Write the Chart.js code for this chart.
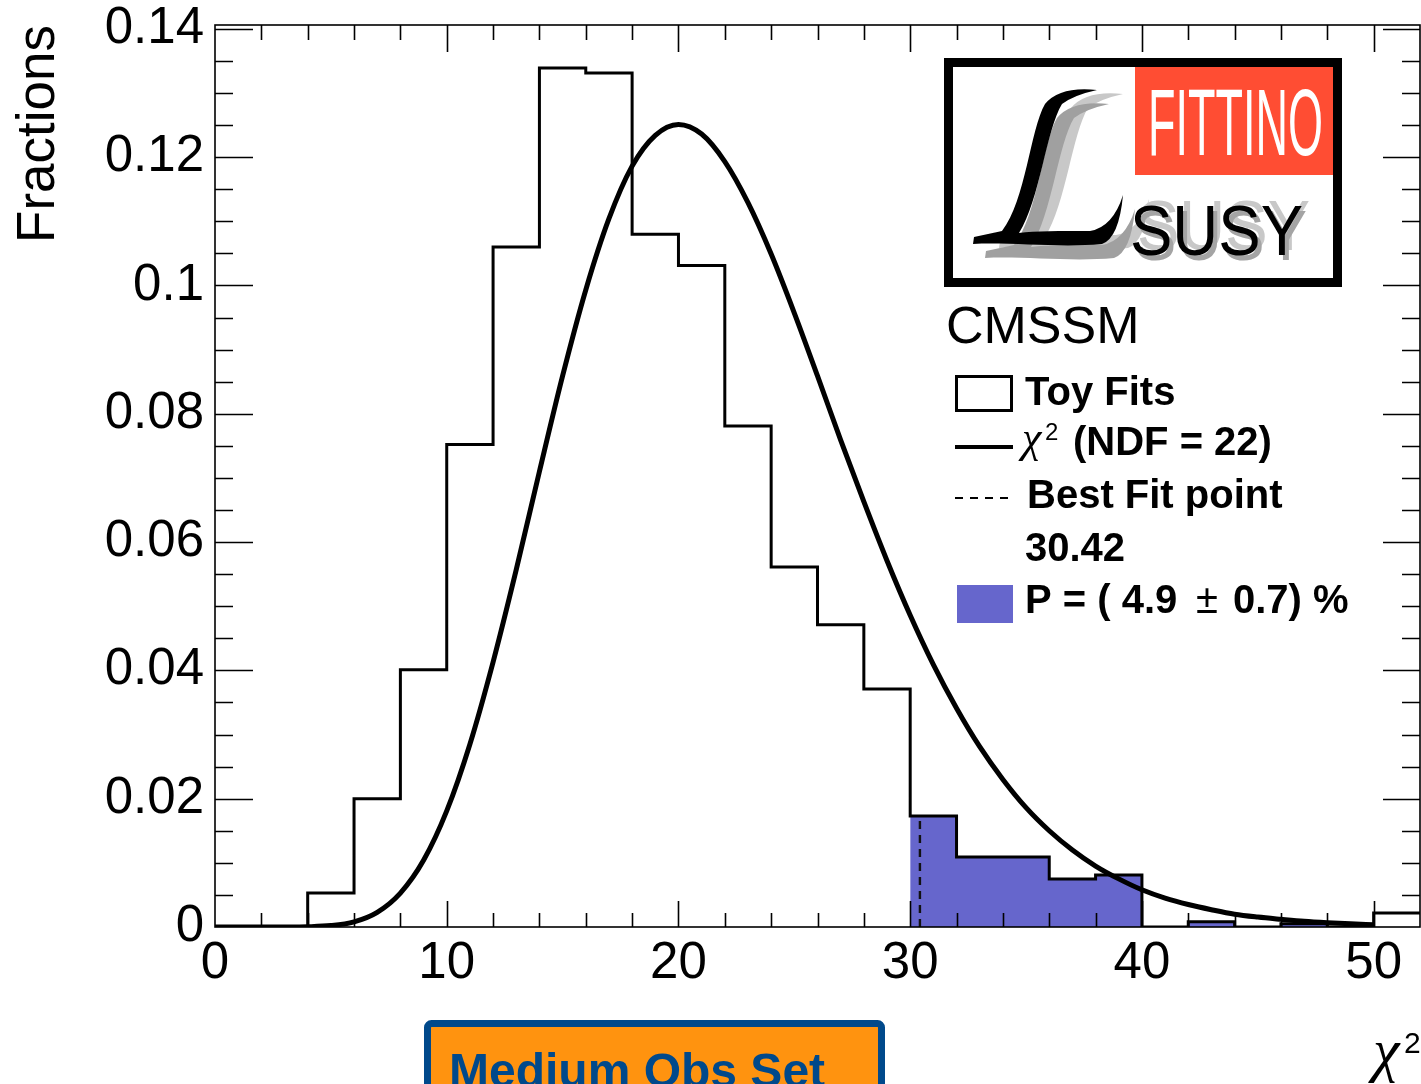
<!DOCTYPE html>
<html>
<head>
<meta charset="utf-8">
<title>Toy fits chi2</title>
<script src="https://cdn.jsdelivr.net/npm/chart.js@4.4.1/dist/chart.umd.min.js"></script>
<style>
  html, body { margin: 0; padding: 0; background: #fff; }
  canvas { display: block; }
</style>
</head>
<body>
<canvas id="myChart" width="1421" height="1084"></canvas>
<script>
// histogram: left bin edges (width 2) and fraction of toy fits per bin
const binEdges = [0, 2, 4, 6, 8, 10, 12, 14, 16, 18, 20, 22, 24, 26, 28, 30, 32, 34, 36, 38, 40, 42, 44, 46, 48, 50];
const toyFits = [0, 0, 0.0053, 0.0200, 0.0401, 0.0752, 0.1060, 0.1339, 0.1331, 0.1080, 0.1031, 0.0781, 0.0561, 0.0471, 0.0371,
                 0.0173, 0.0109, 0.0109, 0.0075, 0.0081, 0, 0.0008, 0, 0.0005, 0, 0.0022];
const binWidth = 2;

// chi2 curve (NDF = 22)
const chi2X = [0, 1, 2, 3, 4, 5, 6, 7, 8, 9, 10, 11, 12, 13, 14, 15, 16, 17, 18, 19, 20, 21, 22, 23, 24, 25,
               26, 27, 28, 29, 30, 31, 32, 33, 34, 35, 36, 37, 38, 39, 40, 41, 42, 43, 44, 45, 46, 47, 48, 49, 50];
const chi2Y = [0, 0, 0, 0.000004, 0.00004, 0.00022, 0.00081, 0.00229, 0.00529, 0.0104, 0.0181, 0.0285, 0.0413, 0.0557,
               0.0710, 0.0859, 0.0993, 0.1104, 0.1186, 0.1234, 0.1251, 0.1236, 0.1193, 0.1129, 0.1049, 0.0957, 0.0859,
               0.0759, 0.0663, 0.0571, 0.0486, 0.0409, 0.0341, 0.0281, 0.0230, 0.0186, 0.0150, 0.0120, 0.0095, 0.0075,
               0.0058, 0.0045, 0.0035, 0.0027, 0.0020, 0.00155, 0.0012, 0.00088, 0.00066, 0.00049, 0.00036];

const bestFit = 30.42;
const tailFrom = 30;   // shaded p-value region
const tailTo = 50;
const xTickLabels = [0, 10, 20, 30, 40, 50];
const yTickLabels = [0, 0.02, 0.04, 0.06, 0.08, 0.1, 0.12, 0.14];

const FONT = '"Liberation Sans", Arial, Helvetica, sans-serif';
const SERIF = '"Liberation Serif", "Times New Roman", serif';

// build step data
const xEnd = binEdges[binEdges.length - 1] + binWidth;
const histData = binEdges.map((x, i) => ({ x: x, y: toyFits[i] }));
histData.push({ x: xEnd, y: toyFits[toyFits.length - 1] });
const tailData = histData.filter(p => p.x >= tailFrom && p.x < tailTo);
tailData.push({ x: tailTo, y: tailData[tailData.length - 1].y });
const curveData = chi2X.map((x, i) => ({ x: x, y: chi2Y[i] }));
const bestIdx = binEdges.findIndex(e => bestFit >= e && bestFit < e + binWidth);
const bestData = [{ x: bestFit, y: 0 }, { x: bestFit, y: toyFits[bestIdx] }];

// ROOT like frame with inward ticks on all four sides
const framePlugin = {
    id: 'frame',
    afterDatasetsDraw(chart) {
        const { ctx, chartArea: a, scales } = chart;
        const x = scales.x, y = scales.y;
        ctx.save();
        ctx.strokeStyle = '#000';
        ctx.lineWidth = 1.6;
        ctx.strokeRect(a.left, a.top, a.right - a.left, a.bottom - a.top);
        ctx.beginPath();
        for (let i = 1; i * 2 < x.max; i++) {
            const px = Math.round(x.getPixelForValue(i * 2)) + 0.5;
            const major = (i * 2) % 10 === 0;
            ctx.moveTo(px, a.bottom); ctx.lineTo(px, a.bottom - (major ? 26 : 14));
            ctx.moveTo(px, a.top); ctx.lineTo(px, a.top + (major ? 27 : 15));
        }
        for (let i = 1; i * 0.005 <= y.max + 1e-9; i++) {
            const py = Math.round(y.getPixelForValue(i * 0.005)) + 0.5;
            const major = i % 4 === 0;
            ctx.moveTo(a.left, py); ctx.lineTo(a.left + (major ? 38 : 18), py);
            ctx.moveTo(a.right, py); ctx.lineTo(a.right - (major ? 37 : 18), py);
        }
        ctx.stroke();
        ctx.restore();
    }
};

function drawScriptL(ctx, dx, dy, color) {
    ctx.save();
    ctx.translate(dx, dy);
    ctx.fillStyle = color;
    ctx.beginPath();
    ctx.moveTo(1097, 90);
    ctx.quadraticCurveTo(1060, 86, 1045, 104);
    ctx.bezierCurveTo(1030, 130, 1026, 200, 1002, 231);
    ctx.lineTo(974, 237);
    ctx.lineTo(973, 244);
    ctx.bezierCurveTo(1010, 242, 1060, 248, 1102, 244);
    ctx.quadraticCurveTo(1119, 238, 1123, 195);
    ctx.quadraticCurveTo(1113, 227, 1090, 231);
    ctx.bezierCurveTo(1060, 231, 1035, 231, 1019, 233);
    ctx.bezierCurveTo(1040, 200, 1046, 130, 1062, 104);
    ctx.quadraticCurveTo(1074, 95, 1097, 90);
    ctx.closePath();
    ctx.fill();
    ctx.restore();
}

const decorPlugin = {
    id: 'decor',
    afterDraw(chart) {
        const ctx = chart.ctx;
        ctx.save();

        // logo
        ctx.fillStyle = '#fff';
        ctx.fillRect(948, 62, 390, 221);
        ctx.fillStyle = '#ff4d33';
        ctx.fillRect(1135, 67, 198, 108);
        ctx.save();
        ctx.font = '94px ' + FONT;
        const fw = ctx.measureText('FITTINO').width;
        ctx.translate(1148, 155);
        ctx.scale(175 / fw, 1);
        ctx.fillStyle = '#fff';
        ctx.fillText('FITTINO', 0, 0);
        ctx.restore();

        drawScriptL(ctx, 26, 4, '#c8c8c8');
        drawScriptL(ctx, 12, 14, '#a0a0a0');
        drawScriptL(ctx, 0, 0, '#000');

        ctx.save();
        ctx.font = '70px ' + FONT;
        const sw = ctx.measureText('SUSY').width;
        const susy = (dx, dy, col) => {
            ctx.save();
            ctx.translate(1130 + dx, 255 + dy);
            ctx.scale(173 / sw, 1);
            ctx.fillStyle = col;
            ctx.fillText('SUSY', 0, 0);
            ctx.restore();
        };
        susy(7, -5, '#c8c8c8');
        susy(4, 5, '#a4a4a4');
        susy(0, 0, '#000');
        ctx.restore();

        ctx.strokeStyle = '#000';
        ctx.lineWidth = 9;
        ctx.strokeRect(948.5, 62.5, 389, 220);

        // legend
        ctx.fillStyle = '#000';
        ctx.textBaseline = 'alphabetic';
        ctx.font = '52px ' + FONT;
        ctx.fillText('CMSSM', 946, 343);

        ctx.lineWidth = 3;
        ctx.strokeRect(956.5, 376.5, 55, 34);
        ctx.fillRect(955, 445, 58, 4);
        ctx.save();
        ctx.setLineDash([8, 7]);
        ctx.lineWidth = 2;
        ctx.beginPath();
        ctx.moveTo(955, 498); ctx.lineTo(1010, 498);
        ctx.stroke();
        ctx.restore();
        ctx.fillStyle = '#6666cc';
        ctx.fillRect(957, 585, 56, 38);

        ctx.fillStyle = '#000';
        ctx.font = 'bold 40px ' + FONT;
        ctx.fillText('Toy Fits', 1025, 405);
        ctx.fillText('Best Fit point', 1027, 508);
        ctx.fillText('30.42', 1025, 561);
        ctx.fillText('P = ( 4.9', 1025, 613);
        ctx.fillText('0.7) %', 1233, 613);
        ctx.font = '40px ' + FONT;
        ctx.fillText('\u00b1', 1196, 613);
        ctx.font = 'italic 44px ' + SERIF;
        ctx.fillText('\u03c7', 1022, 452);
        ctx.font = '24px ' + FONT;
        ctx.fillText('2', 1045, 440);
        ctx.font = 'bold 40px ' + FONT;
        ctx.fillText('(NDF = 22)', 1073, 455);

        // x axis title
        ctx.font = 'italic 60px ' + SERIF;
        ctx.fillText('\u03c7', 1373, 1070);
        ctx.font = '30px ' + FONT;
        ctx.fillText('2', 1404, 1053);

        // observable set box
        ctx.fillStyle = '#ff930f';
        ctx.strokeStyle = '#00498b';
        ctx.lineWidth = 7;
        ctx.beginPath();
        ctx.roundRect(427.5, 1023.5, 454, 100, 4);
        ctx.fill();
        ctx.stroke();
        ctx.fillStyle = '#00498b';
        ctx.font = 'bold 48px ' + FONT;
        ctx.fillText('Medium Obs Set', 449, 1087);

        ctx.restore();
    }
};

Chart.defaults.font.family = FONT;
Chart.defaults.color = '#000';

const ctx = document.getElementById('myChart').getContext('2d');
const myChart = new Chart(ctx, {
    type: 'line',
    data: {
        datasets: [
            {
                label: 'Best Fit point',
                data: bestData,
                borderColor: '#111',
                borderWidth: 2.4,
                borderDash: [8, 6],
                pointRadius: 0,
                order: 1
            },
            {
                label: 'chi2 (NDF = 22)',
                data: curveData,
                borderColor: '#000',
                borderWidth: 5,
                cubicInterpolationMode: 'monotone',
                pointRadius: 0,
                order: 2
            },
            {
                label: 'Toy Fits',
                data: histData,
                stepped: true,
                borderColor: '#000',
                borderWidth: 3,
                pointRadius: 0,
                fill: false,
                order: 3
            },
            {
                label: 'P',
                data: tailData,
                stepped: true,
                borderWidth: 0,
                borderColor: 'rgba(0,0,0,0)',
                backgroundColor: '#6666cc',
                pointRadius: 0,
                fill: 'origin',
                order: 4
            }
        ]
    },
    options: {
        responsive: false,
        devicePixelRatio: 1,
        animation: false,
        layout: { padding: { top: 25, right: 1, left: 0, bottom: 0 } },
        plugins: { legend: { display: false }, tooltip: { enabled: false } },
        scales: {
            x: {
                type: 'linear',
                min: 0,
                max: xEnd,
                grid: { display: false, drawTicks: false, tickLength: 0 },
                border: { display: false },
                ticks: { font: { size: 51 }, padding: 6, maxRotation: 0, color: '#000' },
                afterBuildTicks: s => { s.ticks = xTickLabels.map(v => ({ value: v })); },
                afterFit: s => { s.height = 157; s.paddingLeft = 0; s.paddingRight = 0; }
            },
            y: {
                type: 'linear',
                min: 0,
                max: 0.1406,
                grid: { display: false, drawTicks: false, tickLength: 0 },
                border: { display: false },
                ticks: { font: { size: 51 }, padding: 11, color: '#000', callback: v => String(+v.toFixed(2)) },
                afterBuildTicks: s => { s.ticks = yTickLabels.map(v => ({ value: v })); },
                afterFit: s => { s.width = 215; s.paddingTop = 0; s.paddingBottom = 0; },
                title: { display: true, text: 'Fractions', align: 'end', color: '#000', font: { size: 53 }, padding: { top: 8, bottom: 0 } }
            }
        }
    },
    plugins: [framePlugin, decorPlugin]
});
</script>
</body>
</html>
